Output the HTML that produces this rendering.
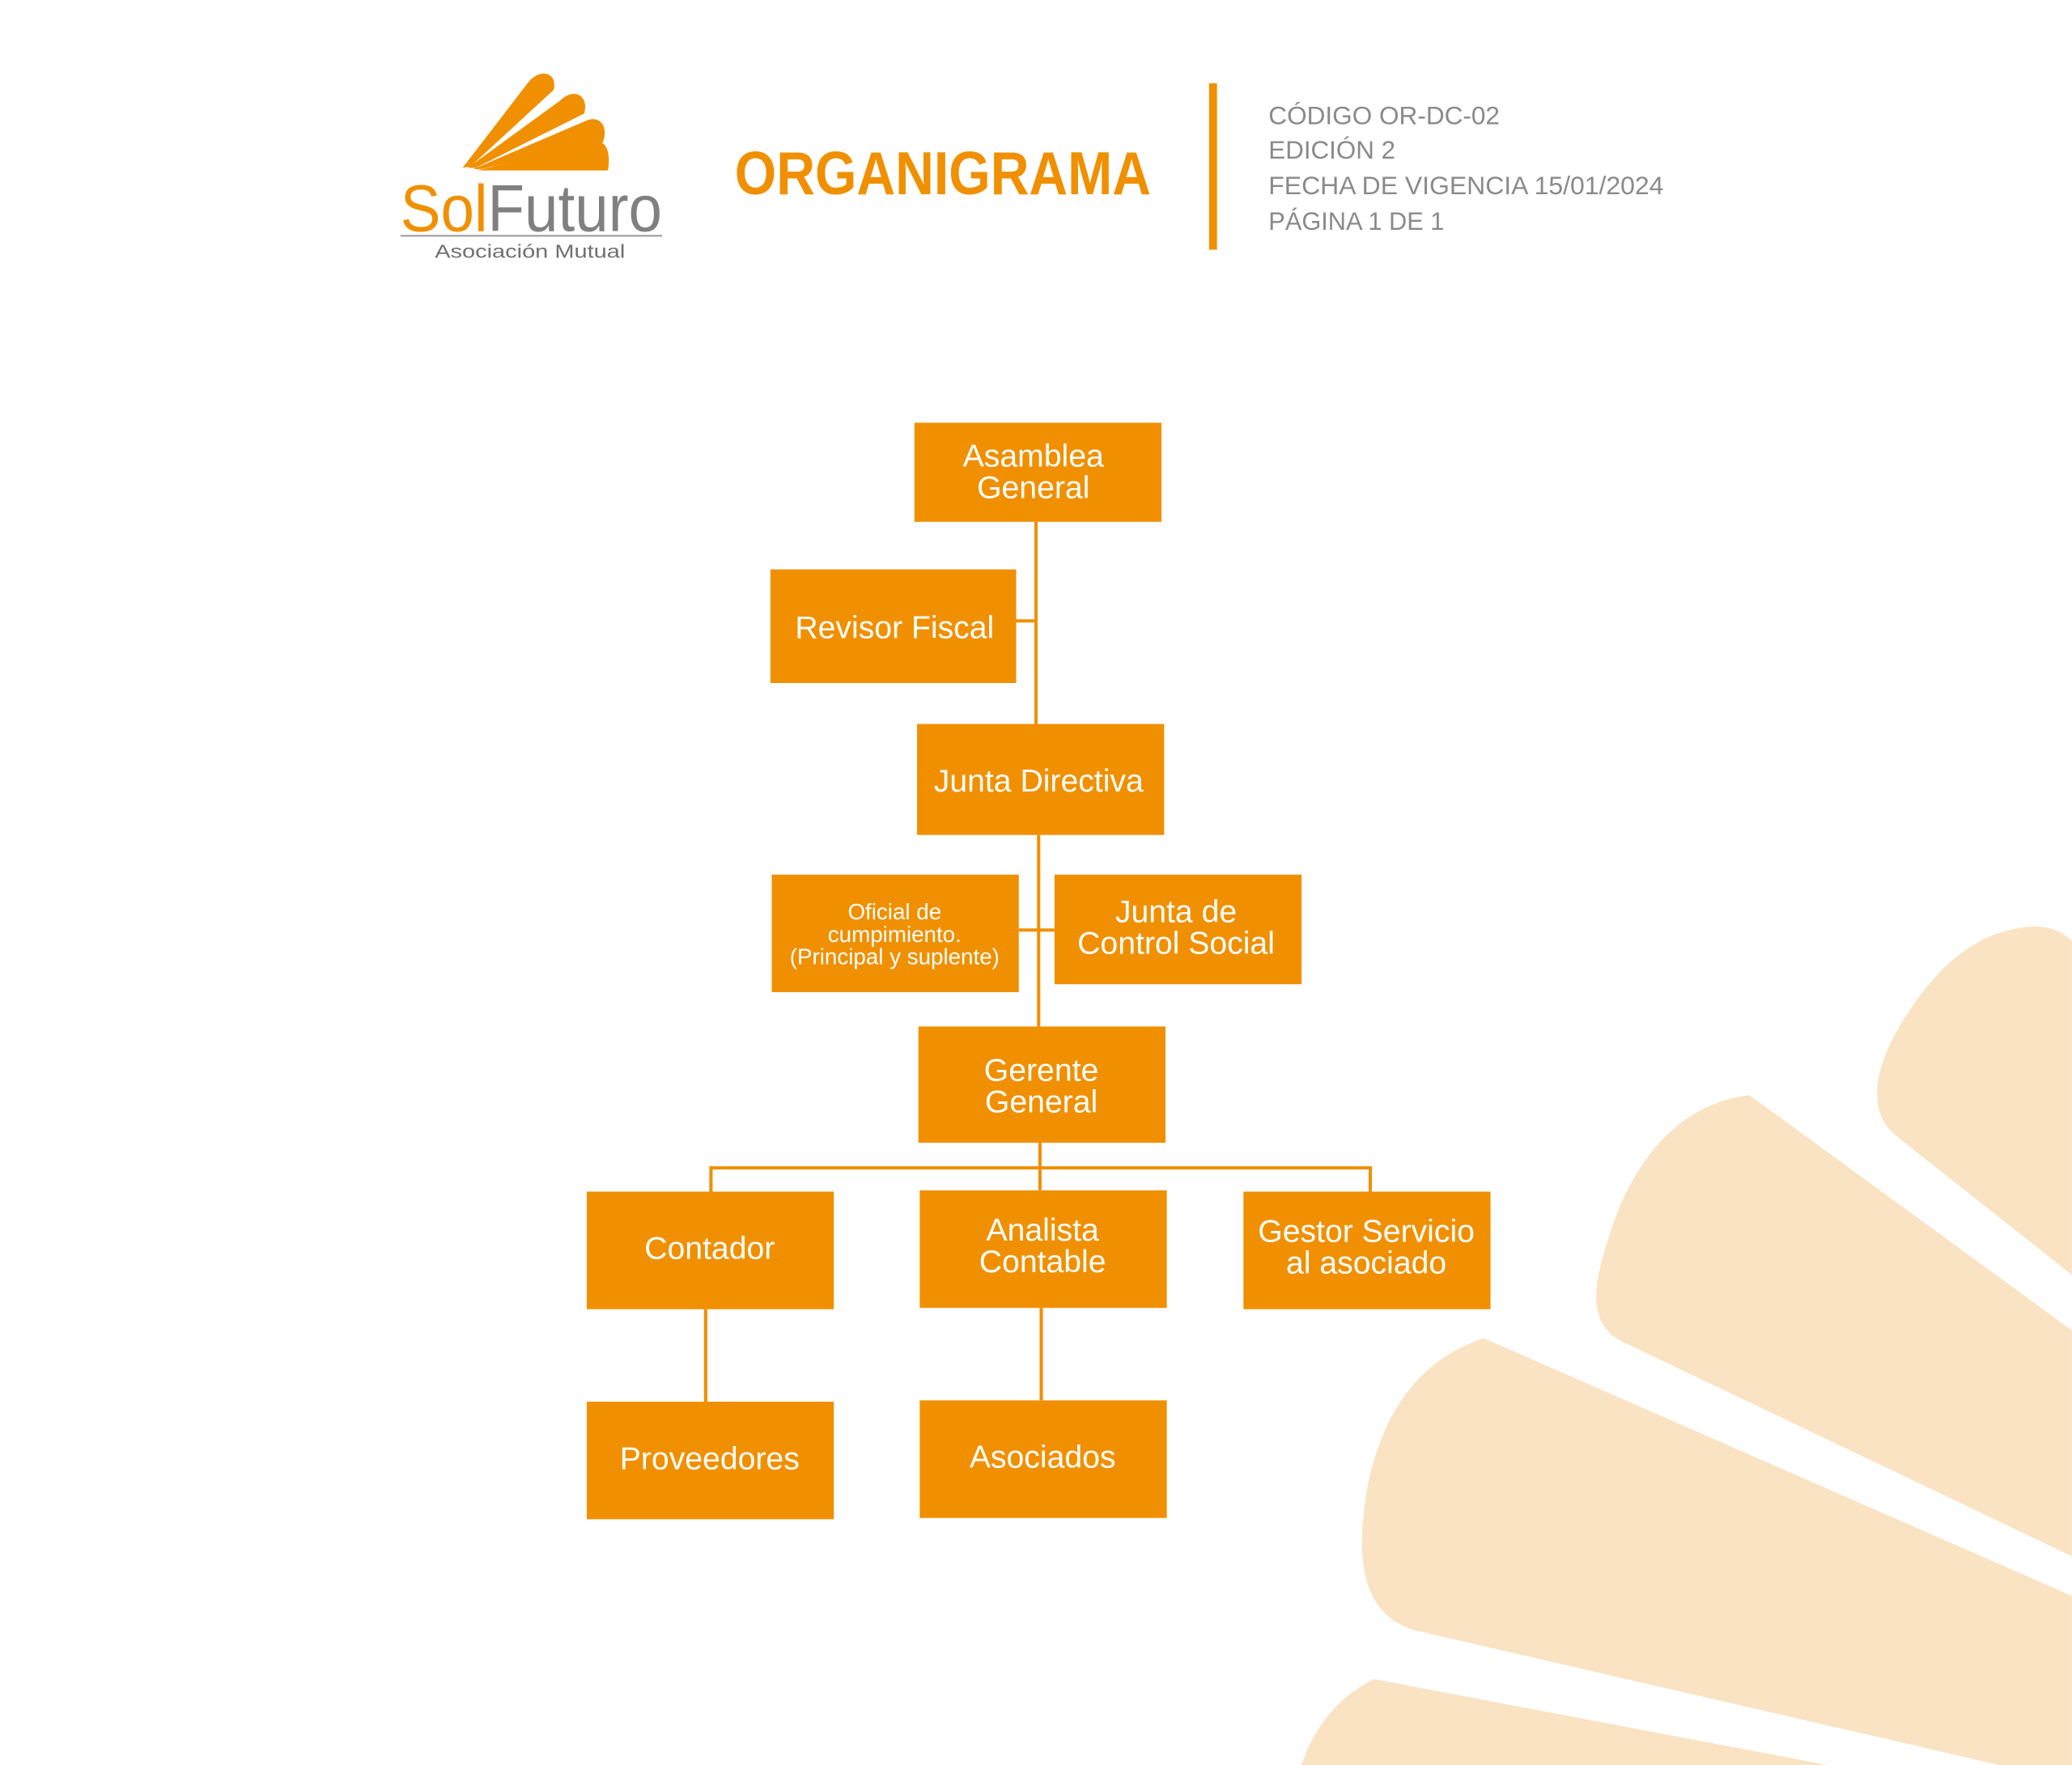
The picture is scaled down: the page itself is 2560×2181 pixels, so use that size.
<!DOCTYPE html>
<html><head><meta charset="utf-8"><style>
html,body{margin:0;padding:0;background:#fff;}
svg{display:block;}
text{font-family:"Liberation Sans",sans-serif;}
</style></head><body>
<svg width="2560" height="2181" viewBox="0 0 1568 1336" xmlns="http://www.w3.org/2000/svg">
<rect width="1568" height="1336" fill="#fff"/>
<g fill="#FAE3C3">
<path d="M1568,712 C1555,700 1540,700 1525,703 C1490,710 1465,735 1445,765 C1418,805 1412,840 1434,859 L1568,965 Z"/>
<path d="M1324,829 C1270,835 1235,880 1218,935 C1205,975 1200,1005 1233,1018 L1568,1178 L1568,1007 Z"/>
<path d="M1123,1013 C1070,1030 1045,1075 1035,1125 C1025,1180 1030,1225 1075,1235 L1513,1336 L1568,1336 L1568,1208 Z"/>
<path d="M1040,1271 C1015,1283 995,1305 985,1336 L1383,1336 Z"/>
</g>
<!-- logo -->
<g fill="#F09000">
<path d="M350,127 L400,62 C408,52 422,54 419,68 L356,126 Z"/>
<path d="M354,127 L424,76 C434,66 446,72 442,86 L360,127 Z"/>
<path d="M358,128 L442,92 C454,86 461,96 456,108 L364,128 Z"/>
<path d="M361,129 L450,108 C460,105 462,118 460,129 Z"/>
</g>
<text x="303" y="175" font-size="50" textLength="198" lengthAdjust="spacingAndGlyphs"><tspan fill="#F09000">Sol</tspan><tspan fill="#808080">Futuro</tspan></text>
<line x1="303" y1="178.5" x2="501" y2="178.5" stroke="#999" stroke-width="1.2"/>
<text x="329" y="195" font-size="14" fill="#707070" textLength="144" lengthAdjust="spacingAndGlyphs">Asociación Mutual</text>
<!-- header -->
<text x="556" y="147" font-size="46" font-weight="bold" fill="#F09000" textLength="315" lengthAdjust="spacingAndGlyphs">ORGANIGRAMA</text>
<rect x="915" y="63" width="6" height="126" fill="#F09000"/>
<g fill="#8a8a8a" font-size="19">
<text x="960" y="94" textLength="175" lengthAdjust="spacingAndGlyphs">CÓDIGO OR-DC-02</text>
<text x="960" y="120" textLength="96" lengthAdjust="spacingAndGlyphs">EDICIÓN 2</text>
<text x="960" y="147" textLength="299" lengthAdjust="spacingAndGlyphs">FECHA DE VIGENCIA 15/01/2024</text>
<text x="960" y="174" textLength="133" lengthAdjust="spacingAndGlyphs">PÁGINA 1 DE 1</text>
</g>
<!-- connectors -->
<g stroke="#F09000" stroke-width="2.5" fill="none">
<line x1="784" y1="395" x2="784" y2="548"/>
<line x1="769" y1="470" x2="784" y2="470"/>
<line x1="786" y1="632" x2="786" y2="777"/>
<line x1="771" y1="704" x2="798" y2="704"/>
<line x1="787" y1="865" x2="787" y2="901"/>
<polyline points="538,902 538,884 1037,884 1037,902"/>
<line x1="534" y1="991" x2="534" y2="1061"/>
<line x1="788" y1="990" x2="788" y2="1060"/>
</g>
<!-- boxes -->
<g fill="#F09000">
<rect x="692" y="320" width="187" height="75"/>
<rect x="583" y="431" width="186" height="86"/>
<rect x="694" y="548" width="187" height="84"/>
<rect x="584" y="662" width="187" height="89"/>
<rect x="798" y="662" width="187" height="83"/>
<rect x="695" y="777" width="187" height="88"/>
<rect x="444" y="902" width="187" height="89"/>
<rect x="696" y="901" width="187" height="89"/>
<rect x="941" y="902" width="187" height="89"/>
<rect x="444" y="1061" width="187" height="89"/>
<rect x="696" y="1060" width="187" height="89"/>
</g>
<g fill="#fff" font-size="24" text-anchor="middle">
<text x="782" y="353">Asamblea</text><text x="782" y="377">General</text>
<text x="677" y="483">Revisor Fiscal</text>
<text x="786" y="599">Junta Directiva</text>
<text x="890" y="698">Junta de</text><text x="890" y="722">Control Social</text>
<text x="788" y="818">Gerente</text><text x="788" y="842">General</text>
<text x="537" y="953">Contador</text>
<text x="789" y="939">Analista</text><text x="789" y="963">Contable</text>
<text x="1034" y="940">Gestor Servicio</text><text x="1034" y="964">al asociado</text>
<text x="537" y="1112">Proveedores</text>
<text x="789" y="1111">Asociados</text>
</g>
<g fill="#fff" font-size="17" text-anchor="middle">
<text x="677" y="696">Oficial de</text>
<text x="677" y="713">cumpimiento.</text>
<text x="677" y="730">(Principal y suplente)</text>
</g>
</svg>
</body></html>
